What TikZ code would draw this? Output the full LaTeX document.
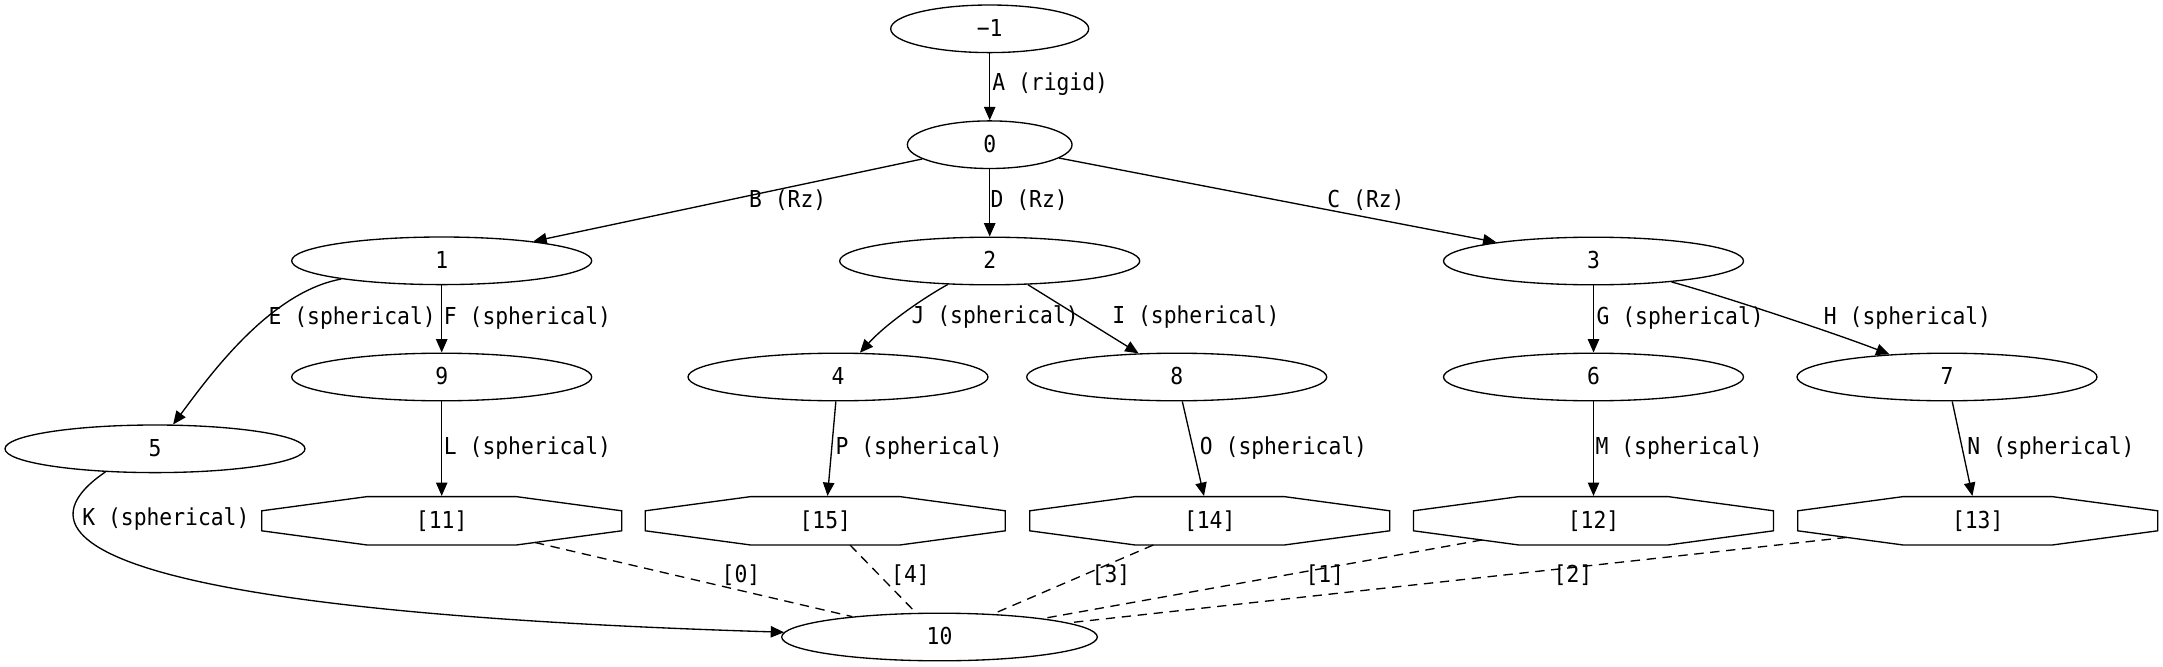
\documentclass[tikz,border=0pt]{standalone}
\usepackage{fontspec}
\newfontfamily\gvfont[FakeStretch=0.915]{DejaVu Sans Mono}
\usetikzlibrary{shapes.geometric,arrows.meta,calc}

\begin{document}
\begin{tikzpicture}[x=0.75pt,y=-0.75pt,line width=1pt, % 1 unit = 1 px of the drawing
        every node/.style={font=\gvfont\fontsize{17.5}{21}\selectfont,inner sep=0pt,text height=13.3pt,text depth=2.3pt},
        joint/.style={ellipse,draw,minimum width=225pt,minimum height=35.7pt},
        octa/.style={minimum width=270pt,minimum height=36.3pt},
        link/.style={-{Triangle[length=10pt,width=8.5pt]}},
        tie/.style={dash pattern=on 7pt off 5pt}]
        \useasboundingbox (0,0) rectangle (2163,667);
        % Root and first joints
        \node[joint,minimum width=148.5pt] (m1) at (989.7,28.8) {−1};
        \node[joint,minimum width=123.5pt] (n0) at (989.7,144.7) {0};
        \node[joint] (n1) at (441.7,260.8) {1};
        \node[joint] (n2) at (989.7,261) {2};
        \node[joint] (n3) at (1593.5,261) {3};
        % Second row
        \node[joint] (n9) at (441.7,377) {9};
        \node[joint] (n4) at (838,377) {4};
        \node[joint] (n8) at (1176.7,377) {8};
        \node[joint] (n6) at (1593.5,377) {6};
        \node[joint] (n7) at (1947,377) {7};
        \node[joint] (n5) at (155,448.8) {5};
        \node[joint,minimum width=236.7pt] (n10) at (939.5,637) {10};
        % Octagons
        \node[octa] (o11) at (441.7,520.8) {[11]};
        \node[octa] (o15) at (825.3,520.8) {[15]};
        \node[octa] (o14) at (1209.7,520.8) {[14]};
        \node[octa] (o12) at (1593.5,520.8) {[12]};
        \node[octa] (o13) at (1977.7,520.8) {[13]};
        \foreach \o in {o11,o15,o14,o12,o13}
            \draw ($(\o)+(-74.5,-24.2)$) -- ($(\o)+(74.5,-24.2)$) -- ($(\o)+(180,-10)$) -- ($(\o)+(180,10)$)
                -- ($(\o)+(74.5,24.2)$) -- ($(\o)+(-74.5,24.2)$) -- ($(\o)+(-180,10)$) -- ($(\o)+(-180,-10)$) -- cycle;
        % Edges
        \draw[link] (m1) -- (n0);
        \draw[link] (n0) -- (n1);
        \draw[link] (n0) -- (n2);
        \draw[link] (n0) -- (n3);
        \draw[link] (n1) .. controls (270,292) and (210,375) .. (n5);
        \draw[link] (n1) -- (n9);
        \draw[link] (n2) .. controls (920,300) and (885,325) .. (n4);
        \draw[link] (n2) -- (n8);
        \draw[link] (n3) -- (n6);
        \draw[link] (n3) .. controls (1720,295) and (1840,335) .. (n7);
        \draw[link] (n5.205) .. controls (20,530) and (60,610) .. (n10);
        \draw[link] (n9) -- (o11);
        \draw[link] (n4) -- (o15);
        \draw[link] (n8) -- (o14);
        \draw[link] (n6) -- (o12);
        \draw[link] (n7) -- (o13);
        % Dashed ties
        \draw[tie] ($(o11)+(93.3,21.7)$) -- (n10);
        \draw[tie] ($(o15)+(24.7,24.2)$) -- (n10);
        \draw[tie] ($(o14)+(-56.4,24.2)$) -- (n10);
        \draw[tie] ($(o12)+(-111.7,19.2)$) -- (n10);
        \draw[tie] ($(o13)+(-131,16.6)$) -- (n10);
        % Labels
        \node[anchor=west] (lA) at (991.7,83.3) {A (rigid)};
        \node[anchor=west] (lB) at (748.5,200) {B (Rz)};
        \node[anchor=west] (lD) at (990,200) {D (Rz)};
        \node[anchor=west] (lC) at (1326.8,200) {C (Rz)};
        \node[anchor=west] (lE) at (268,316.7) {E (spherical)};
        \node[anchor=west] (lF) at (443.3,316.7) {F (spherical)};
        \node[anchor=west] (lJ) at (911,315.7) {J (spherical)};
        \node[anchor=west] (lI) at (1111.7,315.7) {I (spherical)};
        \node[anchor=west] (lG) at (1596,316.7) {G (spherical)};
        \node[anchor=west] (lH) at (1823.3,316.7) {H (spherical)};
        \node[anchor=west] (lL) at (443.3,446.7) {L (spherical)};
        \node[anchor=west] (lP) at (835,446.7) {P (spherical)};
        \node[anchor=west] (lO) at (1199.3,446.7) {O (spherical)};
        \node[anchor=west] (lM) at (1595,446.7) {M (spherical)};
        \node[anchor=west] (lN) at (1966.7,446.7) {N (spherical)};
        \node[anchor=west] (lK) at (81.7,518.3) {K (spherical)};
        \node (l0) at (741,575) {[0]};
        \node (l4) at (910.5,575) {[4]};
        \node (l3) at (1111,575) {[3]};
        \node (l1) at (1324.8,575) {[1]};
        \node (l2) at (1573,575) {[2]};
    \end{tikzpicture}
\end{document}
